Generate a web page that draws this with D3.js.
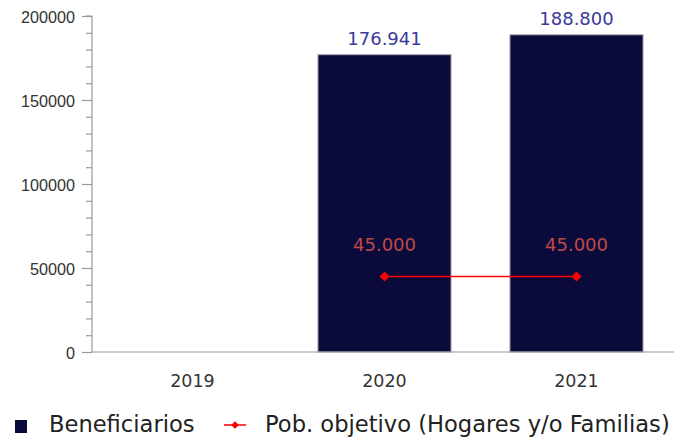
<!DOCTYPE html>
<html><head><meta charset="utf-8">
<script src="https://cdn.jsdelivr.net/npm/d3@7"></script>
<style>body{margin:0;background:#fff}svg{font-family:"DejaVu Sans",sans-serif}</style>
</head><body>
<script>
const categories = ["2019","2020","2021"];
const beneficiarios = [null, 176941, 188800];
const poblacion = [null, 45000, 45000];
const yTicks = [0,50000,100000,150000,200000];
const seriesNames = ["Beneficiarios","Pob. objetivo (Hogares y/o Familias)"];

const W=691,H=442;
const svg=d3.select("body").append("svg").attr("width",W).attr("height",H);
const axisX=92, plotR=674, plotTop=16, plotBottom=352;
const x=d3.scaleBand().domain(categories).range([96.5,672.5]).paddingInner(0.307).paddingOuter(0.1535);
const xc=d3.scalePoint().domain(categories).range([96.5,672.5]).padding(0.5);
const y=d3.scaleLinear().domain([0,200000]).range([plotBottom,plotTop]);
const fmt=v=>d3.format(",")(v).replace(/,/g,".");

// bars
const barData=categories.map((c,i)=>({c,v:beneficiarios[i]})).filter(d=>d.v!=null);
svg.selectAll("rect.bar").data(barData)
 .enter().append("rect").attr("x",d=>x(d.c)).attr("width",x.bandwidth())
 .attr("y",d=>y(d.v)).attr("height",d=>y(0)-y(d.v))
 .attr("fill","#0b0b3b").attr("stroke","#a0a0b4").attr("stroke-width",1);
svg.selectAll("text.bl").data(barData)
 .enter().append("text").attr("x",d=>xc(d.c)).attr("y",d=>y(d.v)-10)
 .attr("text-anchor","middle").attr("font-size",18).attr("fill","#3a3a9c").text(d=>fmt(d.v));

// y axis
const ya=svg.append("g").attr("transform",`translate(${axisX},0)`);
ya.call(d3.axisLeft(y).tickValues(d3.range(0,200001,10000)).tickSize(6).tickFormat(""));
ya.call(g=>g.selectAll(".tick").filter(d=>d%50000===0).select("line").attr("x2",-10));
ya.selectAll("path,line").attr("stroke","#999").attr("stroke-width",1.2);
ya.selectAll("text.yl").data(yTicks).enter().append("text").attr("x",-17).attr("y",d=>y(d)+6.5)
 .attr("text-anchor","end").attr("font-size",16.2).attr("fill","#333").text(d=>d);
ya.select(".domain").attr("d",`M-6,${plotTop}H0V${plotBottom}`);

// x axis
const xa=svg.append("g").attr("transform",`translate(0,${y(0)})`);
xa.append("line").attr("x1",axisX).attr("x2",plotR).attr("stroke","#999").attr("stroke-width",1.2);
xa.selectAll("text").data(categories).enter().append("text").attr("x",d=>xc(d)).attr("y",35)
 .attr("text-anchor","middle").attr("font-size",17.5).attr("fill","#333").text(d=>d);

// line
const pts=categories.map((c,i)=>({c,v:poblacion[i]})).filter(d=>d.v!=null);
svg.append("path").datum(pts).attr("d",d3.line().x(d=>xc(d.c)).y(d=>y(d.v)))
 .attr("fill","none").attr("stroke","#ff0000").attr("stroke-width",1.5);
svg.selectAll("path.pt").data(pts).enter().append("path")
 .attr("d",d3.symbol(d3.symbolSquare,50)).attr("transform",d=>`translate(${xc(d.c)},${y(d.v)}) rotate(45)`).attr("fill","#ff0000");
svg.selectAll("text.ll").data(pts).enter().append("text").attr("x",d=>xc(d.c)).attr("y",d=>y(d.v)-25)
 .attr("text-anchor","middle").attr("font-size",18).attr("fill","#c04848").text(d=>fmt(d.v));

// legend
const lg=svg.append("g");
lg.append("rect").attr("x",15).attr("y",420).attr("width",12).attr("height",13).attr("fill","#0b0b3b");
lg.append("text").attr("x",49).attr("y",432).attr("font-size",22.6).attr("fill","#222").text(seriesNames[0]);
lg.append("line").attr("x1",224).attr("x2",246).attr("y1",425).attr("y2",425).attr("stroke","#ff0000").attr("stroke-width",1.5);
lg.append("path").attr("d",d3.symbol(d3.symbolSquare,30)).attr("transform","translate(235,425) rotate(45)").attr("fill","#ff0000");
lg.append("text").attr("x",265).attr("y",432).attr("font-size",22.6).attr("fill","#222").text(seriesNames[1]);
</script>
</body></html>
